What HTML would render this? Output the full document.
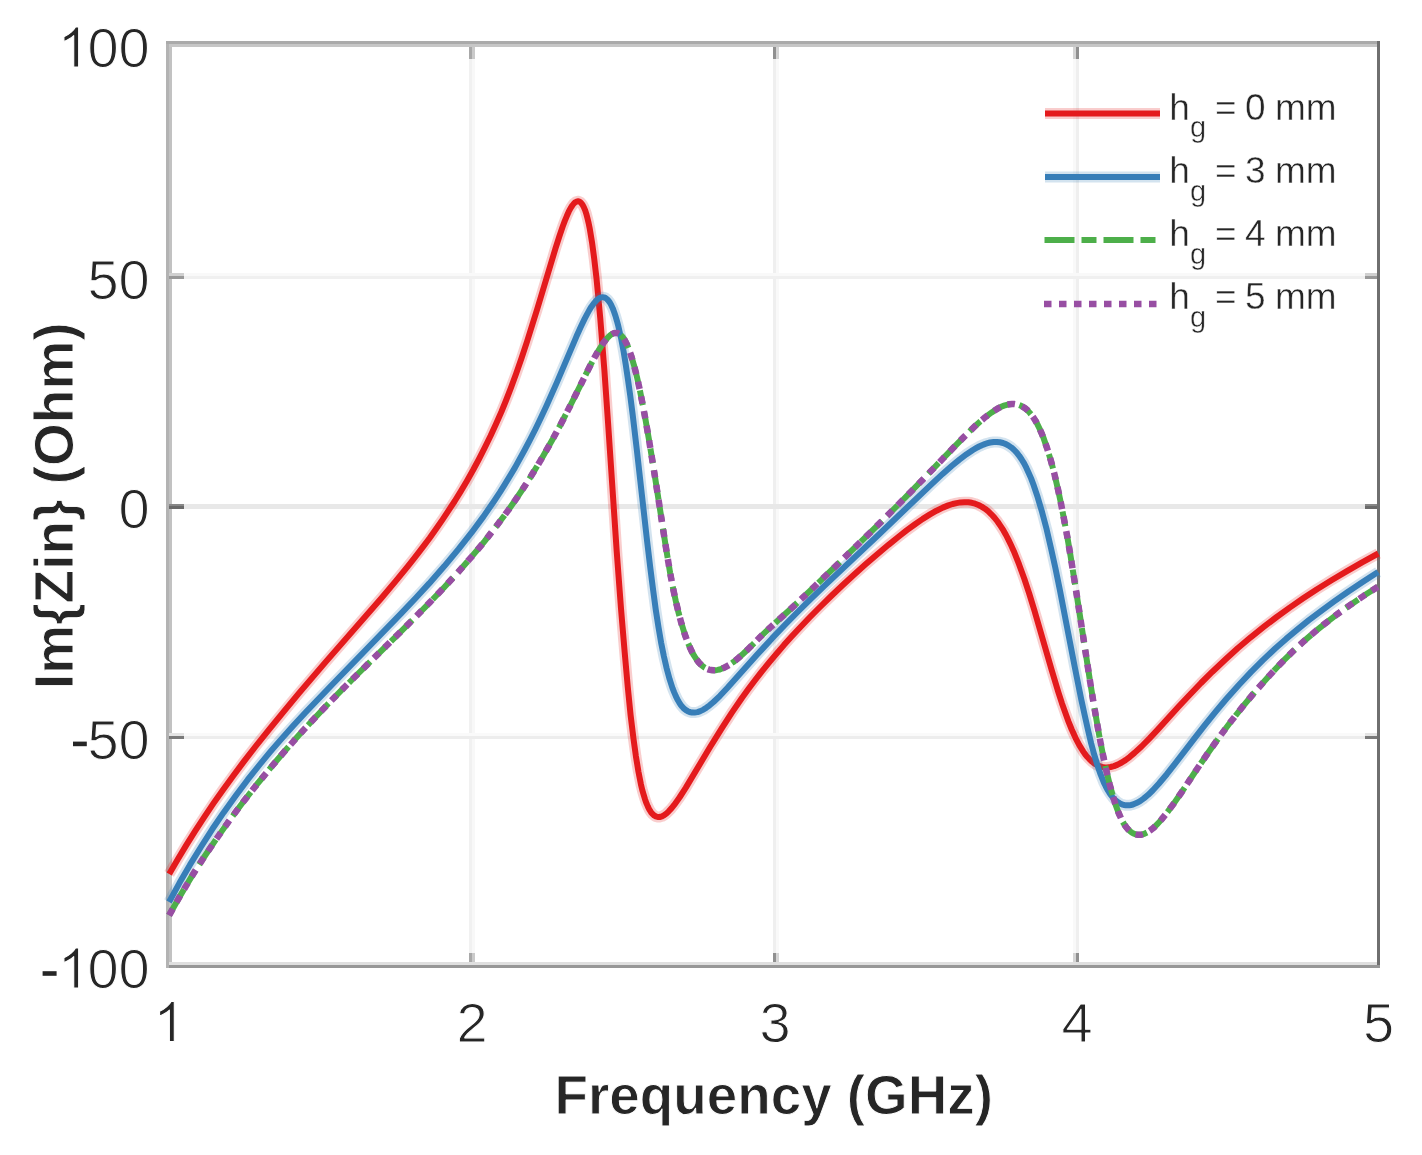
<!DOCTYPE html><html><head><meta charset="utf-8"><title>Im{Zin} vs Frequency</title><style>html,body{margin:0;padding:0;background:#fff;width:1422px;height:1155px;overflow:hidden}svg{display:block;filter:blur(0.35px)}</style></head><body>
<svg width="1422" height="1155" viewBox="0 0 1422 1155">
<rect width="1422" height="1155" fill="#fff"/>
<g shape-rendering="crispEdges">
<rect x="469" y="47" width="3" height="915" fill="#f1f1f1"/><rect x="472" y="47" width="3" height="915" fill="#f8f8f8"/>
<rect x="773" y="47" width="3" height="915" fill="#efefef"/><rect x="776" y="47" width="3" height="915" fill="#f9f9f9"/>
<rect x="1073" y="47" width="3" height="915" fill="#f9f9f9"/><rect x="1076" y="47" width="3" height="915" fill="#efefef"/>
<rect x="172" y="273" width="1205" height="3" fill="#f9f9f9"/><rect x="172" y="276" width="1205" height="3" fill="#f0f0f0"/>
<rect x="172" y="504" width="1205" height="3" fill="#e8e8e8"/><rect x="172" y="506" width="1205" height="3" fill="#e8e8e8"/>
<rect x="172" y="733" width="1205" height="3" fill="#fafafa"/><rect x="172" y="736" width="1205" height="3" fill="#ededed"/>
</g>
<path d="M1045,113.5H1160" stroke="#e41a1c" stroke-opacity="0.22" stroke-width="11.0"/>
<path d="M1045,113.5H1160" stroke="#e41a1c" stroke-width="6.0"/>
<path d="M1045,177H1160" stroke="#377eb8" stroke-opacity="0.22" stroke-width="11.0"/>
<path d="M1045,177H1160" stroke="#377eb8" stroke-width="6.0"/>
<path d="M1044.5,240H1160" stroke="#4daf4a" stroke-width="6.0" stroke-dasharray="30 7 15 7"/>
<path d="M1044,304H1160" stroke="#984ea3" stroke-width="6.5" stroke-dasharray="7.5 7.5"/>
<text font-family="Liberation Sans, sans-serif" font-size="37" fill="#262626" stroke="#fff" stroke-width="0.45" stroke-linejoin="round"><tspan x="1169.3" y="119.5">h</tspan><tspan x="1190" y="137.0" font-size="29">g</tspan><tspan x="1215" y="119.5">=</tspan><tspan x="1245" y="119.5">0</tspan><tspan x="1275" y="119.5">mm</tspan></text>
<text font-family="Liberation Sans, sans-serif" font-size="37" fill="#262626" stroke="#fff" stroke-width="0.45" stroke-linejoin="round"><tspan x="1169.3" y="183">h</tspan><tspan x="1190" y="200.5" font-size="29">g</tspan><tspan x="1215" y="183">=</tspan><tspan x="1245" y="183">3</tspan><tspan x="1275" y="183">mm</tspan></text>
<text font-family="Liberation Sans, sans-serif" font-size="37" fill="#262626" stroke="#fff" stroke-width="0.45" stroke-linejoin="round"><tspan x="1169.3" y="246">h</tspan><tspan x="1190" y="263.5" font-size="29">g</tspan><tspan x="1215" y="246">=</tspan><tspan x="1245" y="246">4</tspan><tspan x="1275" y="246">mm</tspan></text>
<text font-family="Liberation Sans, sans-serif" font-size="37" fill="#262626" stroke="#fff" stroke-width="0.45" stroke-linejoin="round"><tspan x="1169.3" y="309">h</tspan><tspan x="1190" y="326.5" font-size="29">g</tspan><tspan x="1215" y="309">=</tspan><tspan x="1245" y="309">5</tspan><tspan x="1275" y="309">mm</tspan></text>
<g shape-rendering="crispEdges">
<rect x="166" y="41" width="3" height="927" fill="#b3b3b3"/><rect x="169" y="41" width="3" height="927" fill="#c2c2c2"/>
<rect x="166" y="41" width="1214" height="3" fill="#aaaaaa"/><rect x="169" y="44" width="1208" height="3" fill="#c6c6c6"/>
<rect x="1377" y="41" width="3" height="927" fill="#6f6f6f"/>
<rect x="169" y="962" width="1208" height="3" fill="#dfdfdf"/><rect x="169" y="965" width="1211" height="3" fill="#979797"/>
<rect x="169" y="273" width="15" height="3" fill="#d0d0d0"/><rect x="169" y="276" width="15" height="3" fill="#999999"/>
<rect x="1365" y="273" width="12" height="3" fill="#d0d0d0"/><rect x="1365" y="276" width="12" height="3" fill="#999999"/>
<rect x="169" y="504" width="15" height="3" fill="#888888"/><rect x="169" y="506" width="15" height="3" fill="#6a6a6a"/>
<rect x="1365" y="504" width="12" height="3" fill="#888888"/><rect x="1365" y="506" width="12" height="3" fill="#6a6a6a"/>
<rect x="169" y="733" width="15" height="3" fill="#e4e4e4"/><rect x="169" y="736" width="15" height="3" fill="#7a7a7a"/>
<rect x="1365" y="733" width="12" height="3" fill="#e4e4e4"/><rect x="1365" y="736" width="12" height="3" fill="#7a7a7a"/>
<rect x="469" y="953" width="3" height="9" fill="#a8a8a8"/><rect x="472" y="953" width="3" height="9" fill="#cacaca"/>
<rect x="469" y="47" width="3" height="12" fill="#a8a8a8"/><rect x="472" y="47" width="3" height="12" fill="#cacaca"/>
<rect x="773" y="953" width="3" height="9" fill="#909090"/><rect x="776" y="953" width="3" height="9" fill="#d5d5d5"/>
<rect x="773" y="47" width="3" height="12" fill="#909090"/><rect x="776" y="47" width="3" height="12" fill="#d5d5d5"/>
<rect x="1073" y="953" width="3" height="9" fill="#d5d5d5"/><rect x="1076" y="953" width="3" height="9" fill="#909090"/>
<rect x="1073" y="47" width="3" height="12" fill="#d5d5d5"/><rect x="1076" y="47" width="3" height="12" fill="#909090"/>
</g>
<path d="M169.2 873.9 L177.8 859.2 L186.3 845.1 L195.4 830.7 L204.4 816.9 L213.6 803.2 L223.1 789.7 L233.1 775.9 L243.6 761.9 L255.5 746.5 L268.6 730.1 L283.5 711.9 L298.8 693.4 L325.1 662.6 L381.3 598.2 L395.5 581.4 L407.8 566.3 L415.3 556.9 L422.6 547.4 L429.5 538.2 L436.2 528.8 L442.7 519.4 L448.8 510.2 L454.8 501.0 L460.6 491.6 L466.9 480.9 L473.1 470.0 L479.0 459.0 L484.9 447.4 L490.6 435.7 L496.0 423.9 L501.3 412.0 L506.0 400.5 L510.9 387.9 L516.1 373.8 L521.5 358.2 L527.0 341.6 L537.2 309.2 L555.5 248.4 L559.3 236.5 L562.7 226.5 L564.8 220.9 L566.9 215.8 L568.7 211.7 L570.6 208.1 L572.3 205.5 L573.9 203.5 L575.5 202.1 L577.0 201.4 L578.1 201.3 L578.7 201.4 L579.8 201.8 L581.0 202.8 L582.6 204.9 L583.8 207.1 L585.2 210.4 L586.3 213.8 L587.4 218.1 L588.6 223.0 L589.8 228.9 L592.0 242.2 L594.2 258.6 L596.5 278.4 L598.3 297.3 L600.3 318.8 L604.4 370.6 L608.0 422.0 L616.7 551.2 L621.0 608.5 L624.7 652.4 L627.8 687.2 L630.6 715.1 L633.5 738.9 L635.9 756.2 L638.4 771.5 L640.9 784.2 L642.3 790.1 L643.7 794.9 L645.0 799.2 L646.5 803.4 L647.9 806.6 L649.4 809.7 L651.0 812.2 L652.6 814.1 L654.1 815.4 L655.8 816.4 L657.7 817.0 L659.6 817.0 L662.0 816.3 L664.2 815.1 L666.6 813.3 L668.7 811.3 L671.4 808.4 L674.2 804.9 L679.5 797.5 L685.7 787.9 L709.8 747.5 L721.4 728.8 L731.7 712.9 L741.9 698.0 L748.4 689.1 L755.0 680.3 L761.7 671.6 L769.0 662.7 L776.4 653.8 L783.9 645.1 L791.6 636.6 L799.8 627.8 L809.8 617.3 L820.0 607.0 L830.7 596.5 L842.0 585.8 L853.4 575.3 L865.3 564.6 L877.0 554.5 L888.5 544.8 L898.2 537.0 L906.9 530.2 L915.4 524.0 L922.8 518.9 L930.0 514.4 L936.5 510.7 L942.8 507.6 L948.3 505.4 L952.6 504.0 L956.5 503.1 L960.4 502.4 L964.4 502.2 L968.4 502.3 L971.8 502.8 L975.2 503.7 L978.5 505.0 L981.6 506.6 L984.9 508.7 L988.1 511.2 L991.3 514.3 L994.4 517.6 L997.5 521.5 L1000.3 525.6 L1003.3 530.2 L1006.0 535.0 L1008.5 539.9 L1011.1 545.3 L1013.8 551.2 L1019.0 564.2 L1024.3 578.8 L1029.2 593.5 L1034.3 610.2 L1051.7 670.2 L1058.4 692.3 L1061.9 703.2 L1065.4 713.1 L1068.5 721.6 L1071.7 729.5 L1075.6 738.1 L1079.3 745.2 L1083.3 751.6 L1085.3 754.5 L1087.2 756.8 L1089.3 759.1 L1091.4 761.1 L1093.4 762.7 L1095.5 764.2 L1097.7 765.4 L1099.6 766.2 L1102.0 766.9 L1104.0 767.2 L1107.0 767.4 L1110.5 767.0 L1114.0 766.1 L1117.7 764.6 L1121.7 762.5 L1125.5 760.1 L1129.9 756.8 L1134.5 752.9 L1141.5 746.5 L1149.3 738.6 L1157.5 729.9 L1178.7 706.6 L1189.3 695.3 L1201.0 683.0 L1212.4 671.7 L1225.1 659.7 L1237.7 648.3 L1250.7 637.3 L1264.0 626.7 L1276.7 617.0 L1289.7 607.6 L1303.2 598.3 L1317.0 589.2 L1331.5 580.2 L1346.5 571.3 L1362.1 562.3 L1378.3 553.5" fill="none" stroke="#e41a1c" stroke-opacity="0.22" stroke-width="11.0" stroke-linejoin="round"/>
<path d="M169.2 873.9 L177.8 859.2 L186.3 845.1 L195.4 830.7 L204.4 816.9 L213.6 803.2 L223.1 789.7 L233.1 775.9 L243.6 761.9 L255.5 746.5 L268.6 730.1 L283.5 711.9 L298.8 693.4 L325.1 662.6 L381.3 598.2 L395.5 581.4 L407.8 566.3 L415.3 556.9 L422.6 547.4 L429.5 538.2 L436.2 528.8 L442.7 519.4 L448.8 510.2 L454.8 501.0 L460.6 491.6 L466.9 480.9 L473.1 470.0 L479.0 459.0 L484.9 447.4 L490.6 435.7 L496.0 423.9 L501.3 412.0 L506.0 400.5 L510.9 387.9 L516.1 373.8 L521.5 358.2 L527.0 341.6 L537.2 309.2 L555.5 248.4 L559.3 236.5 L562.7 226.5 L564.8 220.9 L566.9 215.8 L568.7 211.7 L570.6 208.1 L572.3 205.5 L573.9 203.5 L575.5 202.1 L577.0 201.4 L578.1 201.3 L578.7 201.4 L579.8 201.8 L581.0 202.8 L582.6 204.9 L583.8 207.1 L585.2 210.4 L586.3 213.8 L587.4 218.1 L588.6 223.0 L589.8 228.9 L592.0 242.2 L594.2 258.6 L596.5 278.4 L598.3 297.3 L600.3 318.8 L604.4 370.6 L608.0 422.0 L616.7 551.2 L621.0 608.5 L624.7 652.4 L627.8 687.2 L630.6 715.1 L633.5 738.9 L635.9 756.2 L638.4 771.5 L640.9 784.2 L642.3 790.1 L643.7 794.9 L645.0 799.2 L646.5 803.4 L647.9 806.6 L649.4 809.7 L651.0 812.2 L652.6 814.1 L654.1 815.4 L655.8 816.4 L657.7 817.0 L659.6 817.0 L662.0 816.3 L664.2 815.1 L666.6 813.3 L668.7 811.3 L671.4 808.4 L674.2 804.9 L679.5 797.5 L685.7 787.9 L709.8 747.5 L721.4 728.8 L731.7 712.9 L741.9 698.0 L748.4 689.1 L755.0 680.3 L761.7 671.6 L769.0 662.7 L776.4 653.8 L783.9 645.1 L791.6 636.6 L799.8 627.8 L809.8 617.3 L820.0 607.0 L830.7 596.5 L842.0 585.8 L853.4 575.3 L865.3 564.6 L877.0 554.5 L888.5 544.8 L898.2 537.0 L906.9 530.2 L915.4 524.0 L922.8 518.9 L930.0 514.4 L936.5 510.7 L942.8 507.6 L948.3 505.4 L952.6 504.0 L956.5 503.1 L960.4 502.4 L964.4 502.2 L968.4 502.3 L971.8 502.8 L975.2 503.7 L978.5 505.0 L981.6 506.6 L984.9 508.7 L988.1 511.2 L991.3 514.3 L994.4 517.6 L997.5 521.5 L1000.3 525.6 L1003.3 530.2 L1006.0 535.0 L1008.5 539.9 L1011.1 545.3 L1013.8 551.2 L1019.0 564.2 L1024.3 578.8 L1029.2 593.5 L1034.3 610.2 L1051.7 670.2 L1058.4 692.3 L1061.9 703.2 L1065.4 713.1 L1068.5 721.6 L1071.7 729.5 L1075.6 738.1 L1079.3 745.2 L1083.3 751.6 L1085.3 754.5 L1087.2 756.8 L1089.3 759.1 L1091.4 761.1 L1093.4 762.7 L1095.5 764.2 L1097.7 765.4 L1099.6 766.2 L1102.0 766.9 L1104.0 767.2 L1107.0 767.4 L1110.5 767.0 L1114.0 766.1 L1117.7 764.6 L1121.7 762.5 L1125.5 760.1 L1129.9 756.8 L1134.5 752.9 L1141.5 746.5 L1149.3 738.6 L1157.5 729.9 L1178.7 706.6 L1189.3 695.3 L1201.0 683.0 L1212.4 671.7 L1225.1 659.7 L1237.7 648.3 L1250.7 637.3 L1264.0 626.7 L1276.7 617.0 L1289.7 607.6 L1303.2 598.3 L1317.0 589.2 L1331.5 580.2 L1346.5 571.3 L1362.1 562.3 L1378.3 553.5" fill="none" stroke="#e41a1c" stroke-width="6.0" stroke-linejoin="round"/>
<path d="M169.1 902.0 L179.4 883.1 L189.9 864.9 L200.9 847.0 L212.2 829.3 L223.7 812.4 L235.7 795.7 L247.7 779.7 L260.2 764.0 L270.4 751.7 L281.5 738.9 L293.2 725.8 L305.7 712.3 L331.3 685.5 L401.2 613.4 L416.0 597.7 L429.2 583.4 L444.4 566.1 L458.5 549.2 L471.5 532.7 L483.4 516.6 L494.5 500.5 L500.0 492.2 L505.0 484.1 L515.1 467.4 L524.5 450.3 L530.1 439.7 L535.5 429.0 L540.9 417.7 L546.4 405.9 L556.8 382.6 L576.4 336.6 L580.7 327.1 L584.6 318.9 L587.1 314.1 L589.3 310.1 L591.4 306.7 L593.4 303.9 L595.7 301.2 L597.5 299.4 L599.1 298.3 L601.0 297.4 L602.5 297.2 L604.0 297.4 L605.4 297.9 L607.0 299.1 L608.4 300.6 L609.9 302.6 L611.3 305.2 L612.8 308.4 L614.2 312.2 L615.5 316.0 L616.9 320.8 L618.3 326.1 L621.0 337.8 L623.7 352.0 L625.8 364.9 L628.0 379.7 L630.3 396.1 L632.7 414.9 L636.8 449.7 L647.1 541.1 L650.3 567.9 L653.2 590.7 L655.8 610.0 L658.5 627.3 L661.1 642.6 L663.9 656.4 L666.7 668.5 L669.6 679.2 L672.5 688.2 L674.2 692.4 L675.8 696.1 L677.3 699.2 L679.1 702.3 L680.7 704.8 L682.3 706.8 L684.0 708.6 L686.0 710.2 L687.7 711.2 L689.6 712.0 L692.0 712.6 L694.5 712.6 L697.5 712.1 L700.3 711.1 L703.5 709.6 L706.4 707.7 L709.6 705.3 L713.5 702.0 L720.0 695.8 L727.5 687.8 L757.2 654.6 L772.0 638.4 L784.8 625.0 L798.1 611.5 L810.6 599.2 L824.6 585.7 L879.1 534.2 L931.9 483.8 L942.6 473.9 L951.6 466.0 L959.4 459.6 L966.6 454.2 L972.9 450.0 L976.0 448.2 L979.1 446.5 L981.9 445.2 L984.7 444.1 L987.6 443.2 L990.1 442.5 L993.7 442.0 L996.8 442.0 L999.9 442.3 L1003.0 443.0 L1005.9 444.1 L1008.6 445.6 L1011.5 447.6 L1014.2 450.0 L1016.7 452.6 L1019.2 455.8 L1021.7 459.5 L1024.1 463.4 L1026.4 467.9 L1028.7 472.9 L1031.1 478.4 L1033.4 484.5 L1037.7 497.3 L1042.1 512.2 L1046.7 529.6 L1051.2 549.1 L1055.3 567.6 L1059.7 589.2 L1074.9 667.7 L1081.3 699.6 L1084.9 716.2 L1088.2 730.9 L1091.2 743.5 L1094.1 754.2 L1097.4 765.2 L1100.7 774.7 L1103.9 782.6 L1105.7 786.3 L1107.3 789.4 L1109.2 792.5 L1110.9 795.0 L1112.8 797.5 L1114.6 799.4 L1116.6 801.2 L1118.7 802.7 L1120.6 803.8 L1122.7 804.6 L1124.3 805.0 L1125.9 805.3 L1127.6 805.3 L1129.2 805.3 L1130.9 805.0 L1133.0 804.5 L1136.4 803.1 L1140.1 801.1 L1143.9 798.4 L1148.2 794.8 L1152.6 790.5 L1159.0 783.5 L1166.8 774.2 L1174.5 764.4 L1194.3 738.6 L1204.4 725.6 L1215.7 711.6 L1226.3 699.0 L1238.6 685.2 L1250.9 672.1 L1262.9 660.1 L1275.2 648.5 L1286.1 638.9 L1297.2 629.6 L1308.9 620.2 L1321.6 610.6 L1334.5 601.2 L1348.4 591.5 L1363.0 581.8 L1378.1 572.1" fill="none" stroke="#377eb8" stroke-opacity="0.22" stroke-width="11.0" stroke-linejoin="round"/>
<path d="M169.1 902.0 L179.4 883.1 L189.9 864.9 L200.9 847.0 L212.2 829.3 L223.7 812.4 L235.7 795.7 L247.7 779.7 L260.2 764.0 L270.4 751.7 L281.5 738.9 L293.2 725.8 L305.7 712.3 L331.3 685.5 L401.2 613.4 L416.0 597.7 L429.2 583.4 L444.4 566.1 L458.5 549.2 L471.5 532.7 L483.4 516.6 L494.5 500.5 L500.0 492.2 L505.0 484.1 L515.1 467.4 L524.5 450.3 L530.1 439.7 L535.5 429.0 L540.9 417.7 L546.4 405.9 L556.8 382.6 L576.4 336.6 L580.7 327.1 L584.6 318.9 L587.1 314.1 L589.3 310.1 L591.4 306.7 L593.4 303.9 L595.7 301.2 L597.5 299.4 L599.1 298.3 L601.0 297.4 L602.5 297.2 L604.0 297.4 L605.4 297.9 L607.0 299.1 L608.4 300.6 L609.9 302.6 L611.3 305.2 L612.8 308.4 L614.2 312.2 L615.5 316.0 L616.9 320.8 L618.3 326.1 L621.0 337.8 L623.7 352.0 L625.8 364.9 L628.0 379.7 L630.3 396.1 L632.7 414.9 L636.8 449.7 L647.1 541.1 L650.3 567.9 L653.2 590.7 L655.8 610.0 L658.5 627.3 L661.1 642.6 L663.9 656.4 L666.7 668.5 L669.6 679.2 L672.5 688.2 L674.2 692.4 L675.8 696.1 L677.3 699.2 L679.1 702.3 L680.7 704.8 L682.3 706.8 L684.0 708.6 L686.0 710.2 L687.7 711.2 L689.6 712.0 L692.0 712.6 L694.5 712.6 L697.5 712.1 L700.3 711.1 L703.5 709.6 L706.4 707.7 L709.6 705.3 L713.5 702.0 L720.0 695.8 L727.5 687.8 L757.2 654.6 L772.0 638.4 L784.8 625.0 L798.1 611.5 L810.6 599.2 L824.6 585.7 L879.1 534.2 L931.9 483.8 L942.6 473.9 L951.6 466.0 L959.4 459.6 L966.6 454.2 L972.9 450.0 L976.0 448.2 L979.1 446.5 L981.9 445.2 L984.7 444.1 L987.6 443.2 L990.1 442.5 L993.7 442.0 L996.8 442.0 L999.9 442.3 L1003.0 443.0 L1005.9 444.1 L1008.6 445.6 L1011.5 447.6 L1014.2 450.0 L1016.7 452.6 L1019.2 455.8 L1021.7 459.5 L1024.1 463.4 L1026.4 467.9 L1028.7 472.9 L1031.1 478.4 L1033.4 484.5 L1037.7 497.3 L1042.1 512.2 L1046.7 529.6 L1051.2 549.1 L1055.3 567.6 L1059.7 589.2 L1074.9 667.7 L1081.3 699.6 L1084.9 716.2 L1088.2 730.9 L1091.2 743.5 L1094.1 754.2 L1097.4 765.2 L1100.7 774.7 L1103.9 782.6 L1105.7 786.3 L1107.3 789.4 L1109.2 792.5 L1110.9 795.0 L1112.8 797.5 L1114.6 799.4 L1116.6 801.2 L1118.7 802.7 L1120.6 803.8 L1122.7 804.6 L1124.3 805.0 L1125.9 805.3 L1127.6 805.3 L1129.2 805.3 L1130.9 805.0 L1133.0 804.5 L1136.4 803.1 L1140.1 801.1 L1143.9 798.4 L1148.2 794.8 L1152.6 790.5 L1159.0 783.5 L1166.8 774.2 L1174.5 764.4 L1194.3 738.6 L1204.4 725.6 L1215.7 711.6 L1226.3 699.0 L1238.6 685.2 L1250.9 672.1 L1262.9 660.1 L1275.2 648.5 L1286.1 638.9 L1297.2 629.6 L1308.9 620.2 L1321.6 610.6 L1334.5 601.2 L1348.4 591.5 L1363.0 581.8 L1378.1 572.1" fill="none" stroke="#377eb8" stroke-width="6.0" stroke-linejoin="round"/>
<path d="M169.1 915.3 L180.2 895.7 L191.7 876.4 L203.8 857.5 L216.4 838.8 L229.4 820.4 L243.1 802.0 L257.6 783.5 L272.9 765.0 L285.9 749.8 L299.2 734.8 L313.1 719.7 L327.5 704.5 L340.1 691.6 L354.2 677.5 L398.1 634.3 L414.0 618.5 L429.8 602.4 L444.3 587.2 L458.8 571.4 L472.0 556.3 L484.5 541.4 L496.2 526.4 L502.5 518.0 L508.7 509.6 L514.7 501.0 L520.6 492.3 L526.4 483.5 L532.0 474.6 L537.7 465.2 L543.3 455.7 L552.2 440.1 L561.0 423.8 L570.1 406.0 L589.5 367.0 L594.6 357.3 L599.1 349.6 L603.4 342.9 L605.5 340.2 L607.4 338.0 L609.1 336.3 L610.9 334.8 L612.5 333.8 L614.1 333.1 L615.8 332.9 L617.1 333.0 L618.7 333.6 L620.2 334.5 L621.6 335.8 L623.1 337.6 L624.4 339.6 L625.8 342.2 L627.3 345.3 L628.6 348.5 L631.4 356.4 L634.2 366.0 L637.1 377.6 L639.8 389.8 L642.6 404.0 L645.7 420.7 L649.1 440.4 L655.0 476.9 L665.7 546.1 L670.1 572.8 L672.9 587.5 L675.7 600.7 L678.6 612.9 L681.6 624.0 L684.9 634.6 L688.2 643.5 L690.0 647.6 L691.7 651.3 L693.3 654.4 L695.2 657.4 L696.9 659.9 L698.7 662.3 L700.8 664.5 L702.7 666.2 L704.8 667.7 L706.6 668.7 L709.0 669.6 L711.0 670.1 L714.0 670.3 L715.6 670.2 L717.6 669.9 L719.6 669.5 L721.5 668.8 L725.2 667.2 L729.1 665.0 L733.7 661.8 L738.4 658.0 L743.2 653.7 L748.7 648.5 L761.4 635.8 L767.9 629.6 L793.1 606.7 L809.1 591.7 L837.9 564.0 L866.3 536.4 L886.9 516.1 L905.9 496.9 L922.7 479.7 L952.8 448.3 L963.3 437.6 L974.7 426.4 L979.9 421.7 L984.5 417.8 L988.0 415.1 L991.7 412.4 L995.0 410.2 L998.0 408.4 L1001.2 406.8 L1004.0 405.7 L1006.8 404.8 L1009.3 404.3 L1011.8 404.0 L1014.3 404.0 L1016.8 404.4 L1018.7 404.9 L1021.0 405.8 L1023.2 407.0 L1025.3 408.4 L1027.6 410.4 L1029.6 412.6 L1031.8 415.3 L1033.9 418.2 L1035.7 421.1 L1037.6 424.6 L1039.6 428.7 L1041.6 433.3 L1043.5 437.9 L1047.1 448.3 L1050.9 460.7 L1054.6 474.7 L1058.2 490.3 L1061.2 504.5 L1064.2 520.2 L1067.4 537.4 L1070.6 556.2 L1076.4 592.7 L1089.8 679.7 L1093.3 701.4 L1096.6 720.6 L1099.9 739.3 L1103.2 756.0 L1106.4 770.7 L1109.5 783.8 L1112.7 795.4 L1115.6 804.9 L1118.6 812.9 L1121.7 819.8 L1123.4 822.9 L1125.0 825.5 L1126.5 827.5 L1128.2 829.5 L1130.1 831.3 L1131.7 832.5 L1133.6 833.6 L1135.1 834.2 L1137.7 834.8 L1139.3 834.8 L1140.9 834.7 L1142.4 834.4 L1144.0 833.9 L1147.3 832.3 L1150.3 830.4 L1153.9 827.5 L1157.5 823.9 L1161.6 819.4 L1167.2 812.4 L1174.1 803.1 L1181.2 792.8 L1199.8 764.9 L1209.7 750.5 L1220.4 735.5 L1230.9 721.5 L1243.3 705.8 L1256.1 690.5 L1270.1 674.8 L1276.9 667.5 L1283.5 660.7 L1293.4 650.8 L1303.4 641.6 L1314.0 632.5 L1325.3 623.3 L1337.3 614.2 L1350.3 604.9 L1364.0 595.6 L1377.9 586.7" fill="none" stroke="#4daf4a" stroke-width="6.0" stroke-dasharray="30 7 15 7"/>
<path d="M169.1 915.3 L180.2 895.7 L191.7 876.4 L203.8 857.5 L216.4 838.8 L229.4 820.4 L243.1 802.0 L257.6 783.5 L272.9 765.0 L285.9 749.8 L299.2 734.8 L313.1 719.7 L327.5 704.5 L340.1 691.6 L354.2 677.5 L398.1 634.3 L414.0 618.5 L429.8 602.4 L444.3 587.2 L458.8 571.4 L472.0 556.3 L484.5 541.4 L496.2 526.4 L502.5 518.0 L508.7 509.6 L514.7 501.0 L520.6 492.3 L526.4 483.5 L532.0 474.6 L537.7 465.2 L543.3 455.7 L552.2 440.1 L561.0 423.8 L570.1 406.0 L589.5 367.0 L594.6 357.3 L599.1 349.6 L603.4 342.9 L605.5 340.2 L607.4 338.0 L609.1 336.3 L610.9 334.8 L612.5 333.8 L614.1 333.1 L615.8 332.9 L617.1 333.0 L618.7 333.6 L620.2 334.5 L621.6 335.8 L623.1 337.6 L624.4 339.6 L625.8 342.2 L627.3 345.3 L628.6 348.5 L631.4 356.4 L634.2 366.0 L637.1 377.6 L639.8 389.8 L642.6 404.0 L645.7 420.7 L649.1 440.4 L655.0 476.9 L665.7 546.1 L670.1 572.8 L672.9 587.5 L675.7 600.7 L678.6 612.9 L681.6 624.0 L684.9 634.6 L688.2 643.5 L690.0 647.6 L691.7 651.3 L693.3 654.4 L695.2 657.4 L696.9 659.9 L698.7 662.3 L700.8 664.5 L702.7 666.2 L704.8 667.7 L706.6 668.7 L709.0 669.6 L711.0 670.1 L714.0 670.3 L715.6 670.2 L717.6 669.9 L719.6 669.5 L721.5 668.8 L725.2 667.2 L729.1 665.0 L733.7 661.8 L738.4 658.0 L743.2 653.7 L748.7 648.5 L761.4 635.8 L767.9 629.6 L793.1 606.7 L809.1 591.7 L837.9 564.0 L866.3 536.4 L886.9 516.1 L905.9 496.9 L922.7 479.7 L952.8 448.3 L963.3 437.6 L974.7 426.4 L979.9 421.7 L984.5 417.8 L988.0 415.1 L991.7 412.4 L995.0 410.2 L998.0 408.4 L1001.2 406.8 L1004.0 405.7 L1006.8 404.8 L1009.3 404.3 L1011.8 404.0 L1014.3 404.0 L1016.8 404.4 L1018.7 404.9 L1021.0 405.8 L1023.2 407.0 L1025.3 408.4 L1027.6 410.4 L1029.6 412.6 L1031.8 415.3 L1033.9 418.2 L1035.7 421.1 L1037.6 424.6 L1039.6 428.7 L1041.6 433.3 L1043.5 437.9 L1047.1 448.3 L1050.9 460.7 L1054.6 474.7 L1058.2 490.3 L1061.2 504.5 L1064.2 520.2 L1067.4 537.4 L1070.6 556.2 L1076.4 592.7 L1089.8 679.7 L1093.3 701.4 L1096.6 720.6 L1099.9 739.3 L1103.2 756.0 L1106.4 770.7 L1109.5 783.8 L1112.7 795.4 L1115.6 804.9 L1118.6 812.9 L1121.7 819.8 L1123.4 822.9 L1125.0 825.5 L1126.5 827.5 L1128.2 829.5 L1130.1 831.3 L1131.7 832.5 L1133.6 833.6 L1135.1 834.2 L1137.7 834.8 L1139.3 834.8 L1140.9 834.7 L1142.4 834.4 L1144.0 833.9 L1147.3 832.3 L1150.3 830.4 L1153.9 827.5 L1157.5 823.9 L1161.6 819.4 L1167.2 812.4 L1174.1 803.1 L1181.2 792.8 L1199.8 764.9 L1209.7 750.5 L1220.4 735.5 L1230.9 721.5 L1243.3 705.8 L1256.1 690.5 L1270.1 674.8 L1276.9 667.5 L1283.5 660.7 L1293.4 650.8 L1303.4 641.6 L1314.0 632.5 L1325.3 623.3 L1337.3 614.2 L1350.3 604.9 L1364.0 595.6 L1377.9 586.7" fill="none" stroke="#984ea3" stroke-width="6.5" stroke-dasharray="7.5 7.5"/>
<path transform="translate(57.79,67) scale(0.027344,-0.027344)" d="M763,0 L583,0 L583,1147 C540,1106 483,1064 413,1023 C343,982 280,951 225,930 L225,1104 C326,1151 414,1208 489,1275 C564,1342 617,1407 648,1466 L763,1466 Z" fill="#262626" stroke="#fff" stroke-width="40.2" stroke-linejoin="round"/>
<text font-family="Liberation Sans, sans-serif" font-size="56" fill="#262626" stroke="#fff" stroke-width="1.1" stroke-linejoin="round" x="87.43" y="67">00</text>
<text font-family="Liberation Sans, sans-serif" font-size="56" fill="#262626" stroke="#fff" stroke-width="1.1" stroke-linejoin="round" x="87.43" y="299">50</text>
<text font-family="Liberation Sans, sans-serif" font-size="56" fill="#262626" stroke="#fff" stroke-width="1.1" stroke-linejoin="round" x="118.56" y="528">0</text>
<rect x="73" y="741.6" width="13.8" height="4.6" fill="#262626"/>
<text font-family="Liberation Sans, sans-serif" font-size="56" fill="#262626" stroke="#fff" stroke-width="1.1" stroke-linejoin="round" x="87.43" y="759">50</text>
<rect x="42.6" y="971.2" width="14" height="4.6" fill="#262626"/>
<path transform="translate(57.79,988) scale(0.027344,-0.027344)" d="M763,0 L583,0 L583,1147 C540,1106 483,1064 413,1023 C343,982 280,951 225,930 L225,1104 C326,1151 414,1208 489,1275 C564,1342 617,1407 648,1466 L763,1466 Z" fill="#262626" stroke="#fff" stroke-width="40.2" stroke-linejoin="round"/>
<text font-family="Liberation Sans, sans-serif" font-size="56" fill="#262626" stroke="#fff" stroke-width="1.1" stroke-linejoin="round" x="87.43" y="988">00</text>
<path transform="translate(153.43,1041.5) scale(0.027344,-0.027344)" d="M763,0 L583,0 L583,1147 C540,1106 483,1064 413,1023 C343,982 280,951 225,930 L225,1104 C326,1151 414,1208 489,1275 C564,1342 617,1407 648,1466 L763,1466 Z" fill="#262626" stroke="#fff" stroke-width="40.2" stroke-linejoin="round"/>
<text font-family="Liberation Sans, sans-serif" font-size="56" fill="#262626" stroke="#fff" stroke-width="1.1" stroke-linejoin="round" text-anchor="middle" x="472" y="1041.5">2</text>
<text font-family="Liberation Sans, sans-serif" font-size="56" fill="#262626" stroke="#fff" stroke-width="1.1" stroke-linejoin="round" text-anchor="middle" x="775" y="1041.5">3</text>
<text font-family="Liberation Sans, sans-serif" font-size="56" fill="#262626" stroke="#fff" stroke-width="1.1" stroke-linejoin="round" text-anchor="middle" x="1077" y="1041.5">4</text>
<text font-family="Liberation Sans, sans-serif" font-size="56" fill="#262626" stroke="#fff" stroke-width="1.1" stroke-linejoin="round" text-anchor="middle" x="1378.5" y="1041.5">5</text>
<text font-family="Liberation Sans, sans-serif" font-size="54.8" font-weight="bold" fill="#262626" stroke="#fff" stroke-width="0.9" stroke-linejoin="round" x="554.5" y="1113.5">Frequency (GHz)</text>
<text font-family="Liberation Sans, sans-serif" font-size="55" font-weight="bold" fill="#262626" stroke="#fff" stroke-width="0.9" stroke-linejoin="round" transform="translate(72.5,689) rotate(-90)">Im{Zin} (Ohm)</text>
</svg>
</body></html>
